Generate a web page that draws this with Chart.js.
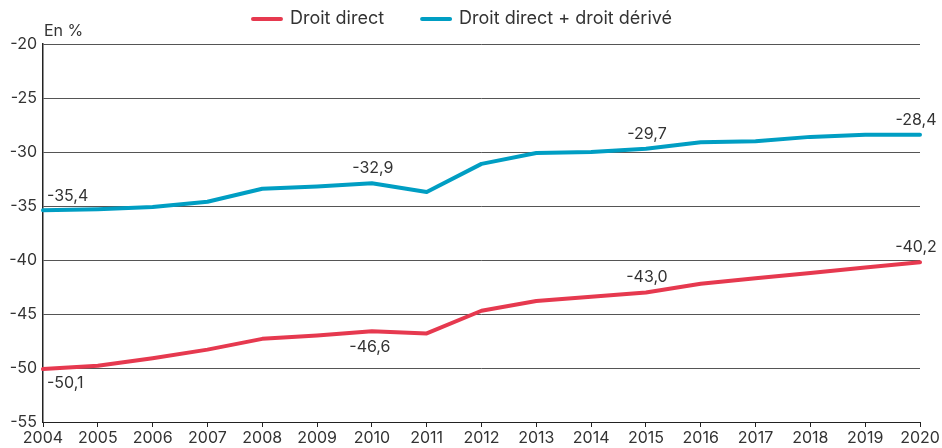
<!DOCTYPE html>
<html>
<head>
<meta charset="utf-8">
<script src="https://cdn.jsdelivr.net/npm/chart.js@4"></script>
<style>
html,body{margin:0;padding:0;background:#fff;}
#wrap{width:942px;height:448px;position:relative;}
</style>
</head>
<body>
<div id="wrap"><canvas id="c" width="942" height="448"></canvas></div>
<script>
const years = ['2004','2005','2006','2007','2008','2009','2010','2011','2012','2013','2014','2015','2016','2017','2018','2019','2020'];
const droitDirect = [-50.1,-49.8,-49.1,-48.3,-47.3,-47.0,-46.6,-46.8,-44.7,-43.8,-43.4,-43.0,-42.2,-41.7,-41.2,-40.7,-40.2];
const droitDirectDerive = [-35.4,-35.3,-35.1,-34.6,-33.4,-33.2,-32.9,-33.7,-31.1,-30.1,-30.0,-29.7,-29.1,-29.0,-28.6,-28.4,-28.4];
const seriesNames = ['Droit direct','Droit direct + droit dérivé'];
const yTicks = [-20,-25,-30,-35,-40,-45,-50,-55];
const unitLabel = 'En %';
// annotated points: dataset index, point index, placement
const annotations = [
  {ds:1, i:0,  place:'aboveRight'},
  {ds:1, i:6,  place:'above'},
  {ds:1, i:11, place:'above'},
  {ds:1, i:16, place:'aboveEnd'},
  {ds:0, i:0,  place:'belowRight'},
  {ds:0, i:6,  place:'below'},
  {ds:0, i:11, place:'above'},
  {ds:0, i:16, place:'aboveEnd'}
];

const RED = '#e6394f';
const BLUE = '#009ec3';
const TXT = '#333333';
const FONT = 'Inter, "Open Sans", sans-serif';

const fmt = v => v.toFixed(1).replace('.', ',');

const extrasPlugin = {
  id: 'extras',
  afterDraw(chart) {
    const ctx = chart.ctx;
    ctx.save();
    // data labels
    ctx.font = '16px ' + FONT;
    ctx.fillStyle = TXT;
    ctx.textBaseline = 'middle';
    annotations.forEach(a => {
      const meta = chart.getDatasetMeta(a.ds);
      const pt = meta.data[a.i];
      const v = chart.data.datasets[a.ds].data[a.i];
      let x = pt.x, y = pt.y;
      switch (a.place) {
        case 'aboveRight': ctx.textAlign = 'left'; x += 4; y -= 14; break;
        case 'belowRight': ctx.textAlign = 'left'; x += 4; y += 14; break;
        case 'above': ctx.textAlign = 'center'; x += 1; y -= 15; break;
        case 'below': ctx.textAlign = 'center'; x -= 2; y += 16; break;
        case 'aboveEnd': ctx.textAlign = 'center'; x -= 4; y -= 15; break;
      }
      ctx.fillText(fmt(v), x, y);
    });
    // unit label
    ctx.textAlign = 'left';
    ctx.fillText(unitLabel, chart.chartArea.left + 1, 31);
    // legend
    ctx.font = '18px ' + FONT;
    const ds = chart.data.datasets;
    const sw = 32, gapTxt = 7, gapItem = 36, ly = 19;
    const widths = ds.map(d => ctx.measureText(d.label).width);
    const total = widths.reduce((s, w) => s + sw + gapTxt + w, 0) + gapItem * (ds.length - 1);
    let x = 461.5 - total / 2;
    ds.forEach((d, k) => {
      ctx.strokeStyle = d.borderColor;
      ctx.lineWidth = 4;
      ctx.lineCap = 'round';
      ctx.beginPath();
      ctx.moveTo(x + 2, ly);
      ctx.lineTo(x + sw - 2, ly);
      ctx.stroke();
      ctx.fillStyle = TXT;
      ctx.fillText(d.label, x + sw + gapTxt, ly);
      x += sw + gapTxt + widths[k] + gapItem;
    });
    ctx.restore();
  }
};

new Chart(document.getElementById('c'), {
  type: 'line',
  data: {
    labels: years,
    datasets: [
      {label: seriesNames[0], data: droitDirect, borderColor: RED, backgroundColor: RED, borderWidth: 4, pointRadius: 0, tension: 0, borderCapStyle: 'round', borderJoinStyle: 'round'},
      {label: seriesNames[1], data: droitDirectDerive, borderColor: BLUE, backgroundColor: BLUE, borderWidth: 4, pointRadius: 0, tension: 0, borderCapStyle: 'round', borderJoinStyle: 'round'}
    ]
  },
  options: {
    responsive: false,
    animation: false,
    devicePixelRatio: 1,
    layout: {padding: {left: 0, right: 22, top: 44, bottom: 0}},
    plugins: {
      legend: {display: false},
      tooltip: {enabled: false}
    },
    scales: {
      x: {
        type: 'category',
        offset: false,
        grid: {display: true, drawOnChartArea: false, drawTicks: true, tickLength: 5, color: '#222', lineWidth: 1},
        border: {display: true, color: '#222', width: 1},
        ticks: {color: TXT, font: {family: FONT, size: 16}, padding: 2, maxRotation: 0, autoSkip: false},
        afterFit(s) { s.height = 26; }
      },
      y: {
        min: -55, max: -20,
        afterBuildTicks(s) { s.ticks = yTicks.map(v => ({value: v})); },
        grid: {display: true, drawTicks: false, color: '#555', lineWidth: 1},
        border: {display: true, color: '#222', width: 1.5},
        ticks: {color: TXT, font: {family: FONT, size: 16}, padding: 6, callback: v => String(v)},
        afterFit(s) { s.width = 43; }
      }
    }
  },
  plugins: [extrasPlugin]
});
</script>
</body>
</html>
